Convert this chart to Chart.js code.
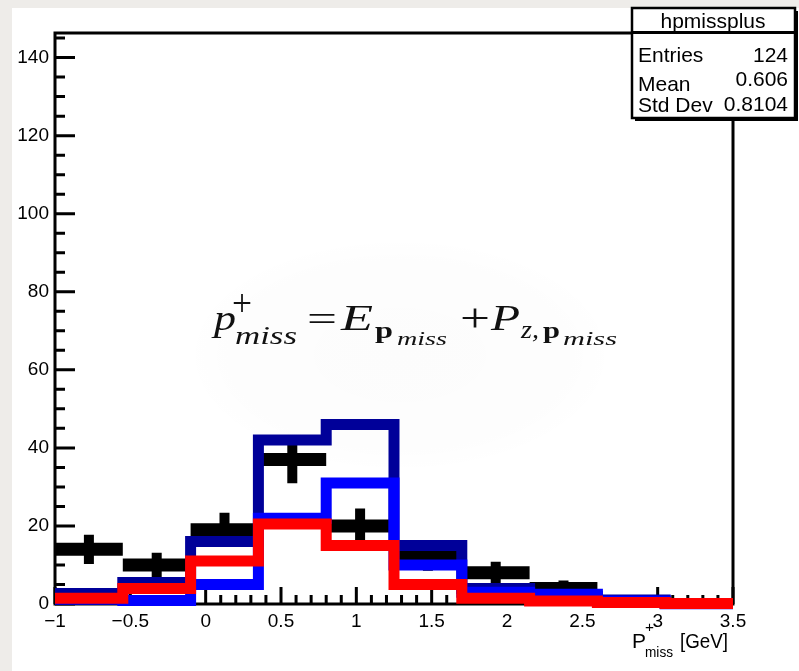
<!DOCTYPE html>
<html><head><meta charset="utf-8">
<script src="https://cdn.jsdelivr.net/npm/chart.js@4"></script>
<style>html,body{margin:0;padding:0;background:#eeece9;} canvas{display:block;}</style>
</head><body>
<canvas id="c" width="799" height="671"></canvas>
<script>
// ---- data ----
const binEdges   = [-1, -0.55, -0.1, 0.35, 0.8, 1.25, 1.7, 2.15, 2.6, 3.05, 3.5];
const dataCounts = [14, 10, 19, 37, 20, 12, 8, 4, 0, 0];
const dataErrors = [3.74, 3.16, 4.36, 6.08, 4.47, 3.46, 2.83, 2.0, 0, 0];
const navyHist   = [2.7, 5.5, 16, 42, 46, 15, 4, 2, 1, 0.1];
const blueHist   = [1.2, 0.9, 5, 22, 31, 10, 3, 2.5, 0.8, 0.05];
const redHist    = [1.5, 4, 11, 20.5, 15, 5, 1.5, 0.8, 0.4, 0.1];
const xTickValues = [-1, -0.5, 0, 0.5, 1, 1.5, 2, 2.5, 3, 3.5];
const xTickLabels = ['\u22121', '\u22120.5', '0', '0.5', '1', '1.5', '2', '2.5', '3', '3.5'];
const yTickValues = [0, 20, 40, 60, 80, 100, 120, 140];
const yTickLabels = ['0', '20', '40', '60', '80', '100', '120', '140'];
const statsTitle = 'hpmissplus';
const statsRows = [['Entries', '124'], ['Mean', '0.606'], ['Std Dev', '0.8104']];

function histPoints(vals) {
  const pts = vals.map((v, i) => ({x: binEdges[i], y: v}));
  pts.push({x: binEdges[vals.length], y: vals[vals.length - 1]});
  return pts;
}
function barPoints() {
  const pts = [];
  dataCounts.forEach((c, i) => {
    if (c <= 0) return;
    pts.push({x: binEdges[i], y: c}, {x: binEdges[i + 1], y: c}, {x: binEdges[i + 1], y: null});
  });
  return pts;
}
function errPoints() {
  const pts = [];
  dataCounts.forEach((c, i) => {
    if (c <= 0) return;
    const xc = (binEdges[i] + binEdges[i + 1]) / 2;
    pts.push({x: xc, y: c - dataErrors[i]}, {x: xc, y: c + dataErrors[i]}, {x: xc, y: null});
  });
  return pts;
}

const lineBase = {pointRadius: 0, pointHoverRadius: 0, fill: false, stepped: 'before',
  borderCapStyle: 'butt', borderJoinStyle: 'miter', spanGaps: false, clip: 10};

function piece(ctx, text, font, x0, x1, base) {
  ctx.font = font;
  const w = ctx.measureText(text).width;
  ctx.save();
  ctx.translate(x0, base);
  ctx.scale((x1 - x0) / w, 1);
  ctx.fillText(text, 0, 0);
  ctx.restore();
}

const decor = {
  id: 'decor',
  beforeDraw(chart) {
    const ctx = chart.ctx;
    ctx.save();
    ctx.fillStyle = '#eeece9';
    ctx.fillRect(0, 0, 799, 671);
    ctx.fillStyle = '#ffffff';
    ctx.fillRect(12, 8, 787, 663);
    // very faint blob behind the formula
    ctx.translate(400, 355);
    ctx.scale(1, 0.55);
    const g = ctx.createRadialGradient(0, 0, 0, 0, 0, 215);
    g.addColorStop(0, 'rgba(0,0,0,0.012)');
    g.addColorStop(0.8, 'rgba(0,0,0,0.008)');
    g.addColorStop(1, 'rgba(0,0,0,0)');
    ctx.fillStyle = g;
    ctx.beginPath(); ctx.arc(0, 0, 215, 0, Math.PI * 2); ctx.fill();
    ctx.restore();
  },
  beforeDatasetsDraw(chart) {
    const {ctx, chartArea: a, scales: {x, y}} = chart;
    ctx.save();
    ctx.strokeStyle = '#000';
    ctx.lineWidth = 3;
    ctx.strokeRect(a.left, a.top, a.right - a.left, a.bottom - a.top);
    ctx.beginPath();
    for (let k = 0; k <= 29; k++) {
      const v = k * 5;
      const py = y.getPixelForValue(v);
      const len = (k % 4 === 0) ? 20 : 10;
      ctx.moveTo(a.left, py); ctx.lineTo(a.left + len, py);
    }
    for (let k = 0; k <= 45; k++) {
      const v = -1 + k * 0.1;
      const px = x.getPixelForValue(v);
      const len = (k % 5 === 0) ? 17 : 9;
      ctx.moveTo(px, a.bottom); ctx.lineTo(px, a.bottom - len);
    }
    ctx.stroke();
    ctx.restore();
  },
  afterDraw(chart) {
    const ctx = chart.ctx;
    ctx.save();
    // stats box
    const bx = 632, by = 8, bw = 163, bh = 110;
    ctx.fillStyle = '#000';
    ctx.fillRect(bx + 3, by + 3, bw, bh);
    ctx.fillStyle = '#fff';
    ctx.fillRect(bx, by, bw, bh);
    ctx.strokeStyle = '#000'; ctx.lineWidth = 2.5;
    ctx.strokeRect(bx, by, bw, bh);
    ctx.beginPath(); ctx.moveTo(bx, 32.5); ctx.lineTo(bx + bw, 32.5); ctx.lineWidth = 3; ctx.stroke();
    ctx.fillStyle = '#000';
    ctx.font = '21px "Liberation Sans", Arial, sans-serif';
    ctx.textAlign = 'center'; ctx.textBaseline = 'alphabetic';
    ctx.fillText(statsTitle, 713, 28);
    const lb = [62, 91, 112], vb = [62, 86, 111];
    ctx.font = '21px "Liberation Sans", Arial, sans-serif';
    statsRows.forEach((r, i) => {
      ctx.textAlign = 'left'; ctx.fillText(r[0], 638, lb[i]);
      ctx.textAlign = 'right'; ctx.fillText(r[1], 788, vb[i]);
    });
    // x-axis title
    ctx.textAlign = 'left';
    piece(ctx, 'P', '20px "Liberation Sans", Arial, sans-serif', 632, 646, 648);
    piece(ctx, '+', '15px "Liberation Sans", Arial, sans-serif', 645, 654, 632);
    piece(ctx, 'miss', '14px "Liberation Sans", Arial, sans-serif', 645, 673, 657);
    piece(ctx, '[GeV]', '20px "Liberation Sans", Arial, sans-serif', 680, 728, 648);
    // formula
    ctx.fillStyle = '#111';
    const it = (s) => 'italic ' + s + 'px "Liberation Serif", "DejaVu Serif", serif';
    const up = (s) => s + 'px "Liberation Serif", "DejaVu Serif", serif';
    const bd = (s) => 'bold ' + s + 'px "Liberation Serif", "DejaVu Serif", serif';
    piece(ctx, 'p', it(36), 214, 236, 330);
    piece(ctx, '+', up(38), 232, 252, 316);
    piece(ctx, 'miss', it(25), 235, 297, 344);
    piece(ctx, '=', up(36), 307, 337, 331);
    piece(ctx, 'E', it(36), 341, 373, 330);
    piece(ctx, 'p', bd(24), 375, 393, 338);
    piece(ctx, 'miss', it(18), 397, 447, 345);
    piece(ctx, '+', up(40), 460, 490, 331);
    piece(ctx, 'P', it(36), 491, 520, 330);
    piece(ctx, 'z,', it(25), 521, 539, 338);
    piece(ctx, 'p', bd(24), 543, 560, 338);
    piece(ctx, 'miss', it(18), 563, 617, 345);
    ctx.restore();
  }
};

new Chart(document.getElementById('c'), {
  type: 'line',
  data: {
    datasets: [
      Object.assign({}, lineBase, {label: 'data', data: barPoints(), stepped: false, borderColor: '#000', borderWidth: 13, order: 5}),
      Object.assign({}, lineBase, {label: 'err', data: errPoints(), stepped: false, borderColor: '#000', borderWidth: 10, order: 4}),
      Object.assign({}, lineBase, {label: 'navy', data: histPoints(navyHist), borderColor: '#000099', borderWidth: 11, order: 3}),
      Object.assign({}, lineBase, {label: 'blue', data: histPoints(blueHist), borderColor: '#0000ff', borderWidth: 11, order: 2}),
      Object.assign({}, lineBase, {label: 'red', data: histPoints(redHist), borderColor: '#ff0000', borderWidth: 11, order: 1})
    ]
  },
  options: {
    responsive: false,
    maintainAspectRatio: false,
    animation: false,
    events: [],
    layout: {padding: {left: 0, top: 33, right: 66, bottom: 0}},
    plugins: {legend: {display: false}, tooltip: {enabled: false}},
    scales: {
      x: {
        type: 'linear', min: -1, max: 3.5,
        grid: {display: false, drawTicks: false},
        border: {display: false},
        afterFit: (s) => { s.height = 67; },
        ticks: {
          stepSize: 0.5, autoSkip: false, maxRotation: 0, padding: 6, color: '#000',
          font: {family: '"Liberation Sans", Arial, sans-serif', size: 19},
          callback: (v) => { const i = xTickValues.findIndex(t => Math.abs(t - v) < 1e-9); return i >= 0 ? xTickLabels[i] : ''; }
        }
      },
      y: {
        type: 'linear', min: 0, max: 146.3,
        grid: {display: false, drawTicks: false},
        border: {display: false},
        afterFit: (s) => { s.width = 55; },
        ticks: {
          stepSize: 20, includeBounds: false, padding: 6, color: '#000',
          font: {family: '"Liberation Sans", Arial, sans-serif', size: 19},
          callback: (v) => { const i = yTickValues.indexOf(v); return i >= 0 ? yTickLabels[i] : ''; }
        }
      }
    }
  },
  plugins: [decor]
});
</script>
</body></html>
